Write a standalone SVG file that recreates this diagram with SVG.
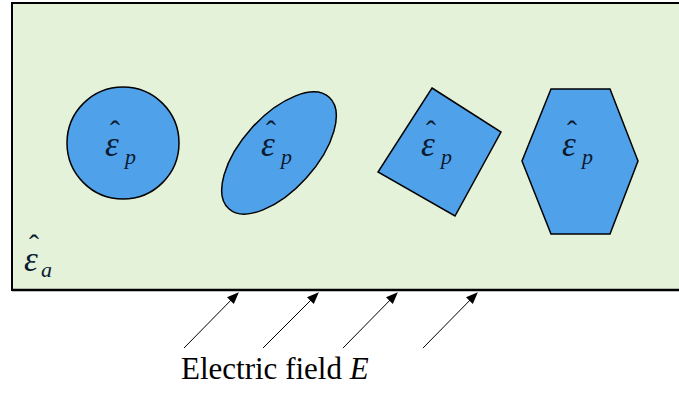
<svg xmlns="http://www.w3.org/2000/svg" width="679" height="394" viewBox="0 0 679 394">
<style>
.shape{fill:#4fa1e9;stroke:#000;stroke-width:1.5}
.eps{font-family:"Liberation Serif",serif;font-style:italic;font-size:35px;fill:#0a1a30}
.sub{font-size:22px}
.hat{font-style:normal;font-size:30px}
.lbl{font-family:"Liberation Serif",serif;font-size:31px;fill:#000}
.arr{stroke:#000;stroke-width:1;fill:none;marker-end:url(#ah)}
</style>
<defs>
<marker id="ah" viewBox="0 0 10 10" refX="9" refY="5" markerWidth="12" markerHeight="12" markerUnits="userSpaceOnUse" orient="auto">
<path d="M0,1 L10,5 L0,9 z" fill="#000"/>
</marker>
</defs>
<g id="domain">
<rect x="12" y="3" width="700" height="287" fill="#e5f2da" stroke="#000" stroke-width="2"/>
<line x1="12" y1="290" x2="679" y2="290" stroke="#000" stroke-width="2.5"/>
<text class="eps"><tspan class="hat" x="29" y="255">ˆ</tspan><tspan x="24" y="271">ε</tspan><tspan class="sub" x="41" y="277">a</tspan></text>
</g>
<g id="circle">
<circle class="shape" cx="123" cy="143" r="56"/>
<text class="eps"><tspan class="hat" x="110" y="141">ˆ</tspan><tspan x="105" y="156">ε</tspan><tspan class="sub" x="125" y="164">p</tspan></text>
</g>
<g id="ellipse">
<ellipse class="shape" cx="279" cy="153" rx="75" ry="37" transform="rotate(-48 279 153)"/>
<text class="eps"><tspan class="hat" x="266" y="141">ˆ</tspan><tspan x="261" y="156">ε</tspan><tspan class="sub" x="281" y="164">p</tspan></text>
</g>
<g id="rectangle">
<polygon class="shape" points="432,88 501,132 455,216 378,172"/>
<text class="eps"><tspan class="hat" x="426" y="141">ˆ</tspan><tspan x="421" y="156">ε</tspan><tspan class="sub" x="441" y="164">p</tspan></text>
</g>
<g id="hexagon">
<polygon class="shape" points="551,89 610,89 638,161 610,234 551,234 522,161"/>
<text class="eps"><tspan class="hat" x="567" y="141">ˆ</tspan><tspan x="562" y="156">ε</tspan><tspan class="sub" x="582" y="164">p</tspan></text>
</g>
<g id="connectors">
<line class="arr" x1="184" y1="348" x2="238" y2="293"/>
<line class="arr" x1="263" y1="348" x2="318" y2="293"/>
<line class="arr" x1="343" y1="348" x2="397" y2="293"/>
<line class="arr" x1="423" y1="348" x2="477" y2="293"/>
</g>
<g id="label">
<text class="lbl" x="181" y="379">Electric field <tspan font-style="italic">E</tspan></text>
</g>
</svg>
